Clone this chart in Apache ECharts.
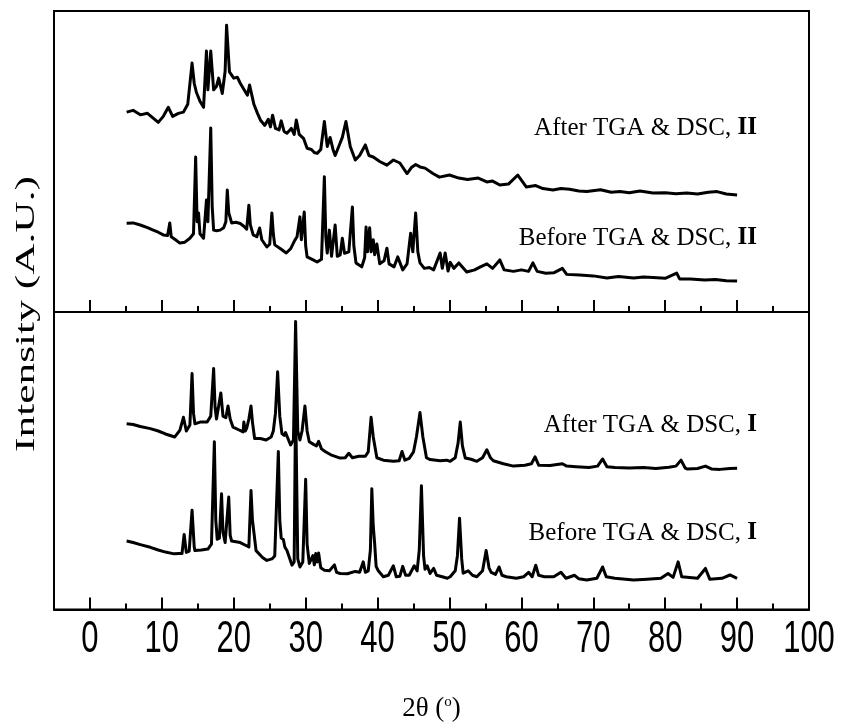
<!DOCTYPE html>
<html>
<head>
<meta charset="utf-8">
<script src="https://cdn.jsdelivr.net/npm/echarts@6/dist/echarts.min.js"></script>
<style>
  html, body { margin: 0; padding: 0; background: #fff; }
  #main { width: 841px; height: 723px; }
</style>
</head>
<body>
<div id="main"></div>
<script>
// tick positions of the 2θ axis
const majorTicks = [0, 10, 20, 30, 40, 50, 60, 70, 80, 90, 100];
const minorTicks = [5, 15, 25, 35, 45, 55, 65, 75, 85, 95];

// top panel: sample II (intensity in arbitrary units, 0-100 per panel)
const afterII = [[5.1,66.4],[6,67],[7,65.5],[8,66],[9,64],[9.5,63],[10.2,65],[10.9,68],[11.5,65],[12.3,66],[13,66.4],[13.6,69],[14.2,82.7],[14.5,76],[14.8,73],[15.3,70],[15.8,68],[16.2,86.7],[16.4,73.8],[16.8,86.7],[17.2,73.8],[17.6,75],[17.9,77.7],[18.4,72.6],[18.8,80],[19.0,95.3],[19.4,79.8],[20.0,77.7],[20.5,78],[20.9,76],[21.4,74],[21.9,72],[22.2,75.4],[22.8,69],[23.3,66],[23.7,63.8],[24.3,62],[24.8,64],[25.1,61.5],[25.4,65.4],[25.8,61],[26.3,60.5],[26.6,63.5],[27.0,60],[27.4,59.4],[28.0,61],[28.4,59],[28.7,63.8],[29.1,59],[29.7,57.7],[30.2,54.4],[30.8,54],[31.2,53],[31.6,52.7],[32.1,54],[32.6,63.3],[33.0,55],[33.4,58],[33.8,54],[34.1,52],[34.6,55],[35.1,58],[35.6,63.3],[36.2,55],[36.9,50.5],[37.5,52],[38.3,55.5],[38.8,52],[39.4,51.5],[40.3,50],[41.3,48.8],[42.2,50.5],[43.1,49.5],[44.1,46],[44.7,48],[45.3,49],[45.9,48.2],[46.6,47.8],[47.7,46],[48.6,44.8],[50,45.5],[51.3,44.5],[52.5,44],[54,44.5],[55.2,43.2],[56,43.5],[57,42.2],[58.2,42.5],[59.5,45.5],[60.7,41.5],[62,42],[63,41],[64.4,40.5],[65.5,41],[66.7,40.8],[68,40.2],[69.1,40],[71,40.6],[72.5,39.8],[73.7,40],[75,39.6],[76.5,40.2],[78.3,39.5],[80,39.6],[81.5,39.3],[83,39.5],[84.5,39.2],[86,39.8],[87.2,40],[88.5,39.2],[90,38.9]];

const beforeII = [[5.1,29.5],[6,29.6],[7,28.9],[8,28],[8.8,27.2],[9.5,26.5],[10.2,25.6],[10.8,25.4],[11.1,29.6],[11.3,25],[11.9,24],[12.5,22.9],[13.2,23.2],[13.9,24.5],[14.4,26],[14.7,51.5],[14.9,30],[15.1,32.9],[15.3,26],[15.8,24.5],[16.2,37.2],[16.4,30],[16.8,61.1],[17.0,35],[17.2,27.2],[17.6,27],[18.1,27.2],[18.6,28],[18.9,30],[19.1,40.5],[19.3,33],[19.7,29.6],[20.3,29.8],[20.9,29.4],[21.4,28.5],[21.8,27.5],[22.1,35.5],[22.3,29],[22.7,25.6],[23.2,25],[23.6,27.9],[23.9,24],[24.6,21.6],[25.0,22.5],[25.3,32.9],[25.5,26],[25.7,22.3],[26.5,21],[27.3,19.6],[27.9,21],[28.5,23.9],[28.8,25],[29.2,31.6],[29.4,24],[29.8,33.2],[30.0,22],[30.2,18.3],[30.9,17.5],[31.6,16.6],[32.2,17.5],[32.6,44.9],[32.8,25],[33.0,19.6],[33.3,27.2],[33.6,18.5],[34.1,28.9],[34.4,18.5],[34.8,19],[35.1,24.5],[35.4,19.5],[36.0,20],[36.5,34.9],[36.7,22],[37.0,16.3],[37.8,15],[38.2,18],[38.4,28.2],[38.6,20],[38.9,28],[39.1,20],[39.4,24],[39.6,19],[39.9,22.6],[40.3,16],[40.9,17],[41.3,21.2],[41.6,16],[42.3,15],[42.8,18.3],[43.5,14],[44.1,16],[44.6,26.2],[44.9,20],[45.3,32.9],[45.6,20],[45.9,16.3],[46.5,14.5],[47.2,14.8],[47.8,14],[48.7,19.6],[49.0,14.5],[49.4,19.6],[49.8,13.6],[50.1,16.5],[50.6,14.5],[51.3,16.3],[52.4,13.3],[53.5,14],[54.3,15],[55.2,16],[56,14.5],[57,17.3],[57.6,14],[58.9,13.5],[60,14],[61,13.5],[61.6,16.3],[62.2,13.5],[63.4,12.9],[64.5,13],[65.7,14.5],[66.3,12.5],[68.1,12.3],[70,12],[71.9,11.3],[73.5,11.8],[75.6,11.3],[77,11.6],[78.3,11.5],[80,11.2],[81.6,12.9],[82,11],[83.5,11],[85.5,10.6],[87,10.8],[88.5,10.4],[90,10.3]];

// bottom panel: sample I
const afterI = [[5.1,62.4],[6,62.2],[7,61.5],[8.4,60.8],[9.5,60],[10.5,59],[11.8,58],[12.5,60.2],[13.0,64.6],[13.4,60],[13.9,62],[14.2,79.3],[14.4,66],[14.6,62.4],[15.3,63],[16.3,63],[16.8,65],[17.2,81],[17.4,68],[17.6,64],[18.2,72.8],[18.5,65],[18.9,64.5],[19.2,68.4],[19.5,64],[19.9,61.3],[20.6,60.5],[21.3,59.7],[21.4,63],[21.6,60],[21.8,61],[22.1,64],[22.4,68.4],[22.6,63],[22.9,57.5],[23.7,57.5],[24.5,57],[25.2,58],[25.5,60],[25.8,66],[26.1,79.9],[26.4,65],[26.7,59.1],[27.0,58.5],[27.2,59.5],[27.9,55.3],[28.3,57],[28.6,96.8],[28.9,60],[29.2,57],[29.5,60],[29.9,68.4],[30.2,60],[30.5,56.4],[31.1,55.5],[31.5,55],[31.8,56.5],[32.2,54],[32.7,53.1],[33.5,52],[34.8,50.9],[35.5,51],[36.0,52.5],[36.5,51],[37.4,51.5],[38.3,51.5],[38.7,53],[39.1,64.6],[39.4,58],[39.9,51],[40.8,50.2],[42.2,49.8],[43.0,50],[43.4,53.1],[43.8,50.2],[44.4,50.8],[45.0,53],[45.4,58],[45.9,66.2],[46.3,58],[46.8,51],[47.3,50.4],[48.7,50],[49.6,50.2],[50.1,49.8],[50.8,51],[51.2,56],[51.5,63],[51.8,55],[52.2,50.9],[53,50.5],[53.8,49.8],[54.6,51],[55.2,53.7],[55.7,51],[56.1,50],[57.5,49],[58.9,48.2],[60.5,48.5],[61.4,49],[61.9,51.3],[62.4,48.5],[64,48.4],[65.7,49],[66.3,48.2],[67.6,48],[69.4,47.7],[70.6,48.2],[71.3,50.6],[71.9,48],[73,47.7],[75,47.6],[77,47.7],[78.7,47.4],[80.5,47.8],[81.5,48.2],[82.2,50.2],[82.8,47.5],[83.1,47.2],[84.5,47.4],[85.6,48.2],[86.5,47.2],[87.6,47.1],[89,47.4],[90,47.5]];

const beforeI = [[5.1,23],[6,22.5],[7,21.8],[8.4,20.9],[9.5,20],[10.5,19.3],[11.7,18.7],[12.4,18.8],[12.8,18.8],[13.1,25.2],[13.4,19.2],[13.8,19.6],[14.2,33.4],[14.5,21],[14.6,19.8],[15.5,20],[16.4,20.3],[16.9,22],[17.3,56.4],[17.5,30],[17.7,23.6],[18.0,24],[18.3,38.9],[18.5,26],[18.8,22.5],[19.3,37.8],[19.5,25],[19.7,23],[20.9,22.5],[21.7,21.5],[22.1,21],[22.4,40],[22.6,30],[22.7,28],[23.1,19.8],[24.0,17.5],[24.6,16.5],[25.3,17],[25.7,18],[26.2,53.1],[26.4,30],[26.6,24],[26.9,23.5],[27.1,21],[27.4,19.8],[28.1,14.9],[28.4,16],[28.6,70],[28.9,17],[29.2,14.3],[29.6,16],[30.0,43.8],[30.2,22],[30.5,15.5],[31.0,18.1],[31.2,15],[31.4,18.8],[31.6,16],[31.8,19],[32.1,14],[32.6,13.2],[33.3,13],[34.0,15],[34.3,12.5],[34.8,12.1],[35.8,12],[36.9,12.8],[37.5,12.5],[38.0,16],[38.3,12.5],[38.7,13],[39.0,20],[39.2,40.6],[39.4,28],[39.6,22],[39.8,14.5],[40.1,13],[40.8,11],[41.5,11.5],[42.2,14.7],[42.6,11],[43.1,11.2],[43.5,14.5],[43.9,11.5],[44.4,11.5],[45.1,14.7],[45.5,13],[45.8,20],[46.1,41.6],[46.4,18],[46.6,13.5],[46.9,14.7],[47.3,12.1],[47.8,13.8],[48.2,11.5],[49.0,11],[49.7,10.5],[50.1,11],[50.8,13],[51.1,18],[51.4,30.7],[51.7,17],[51.9,12.2],[52.6,13],[53.2,11.5],[53.8,11],[54.6,13],[55.1,19.8],[55.5,14],[55.8,12.5],[56.4,11.8],[56.9,14.3],[57.3,11.5],[57.9,11],[59.3,10.5],[60.3,11],[61.0,12.5],[61.5,11],[62.0,14.9],[62.4,11.5],[63.2,11],[64.5,11],[65.5,12.5],[66.2,10.5],[67.4,11.5],[68.0,10.3],[69.1,9.9],[70.5,10.5],[71.3,14.3],[71.8,11],[73,10.5],[75.6,9.9],[77.5,10.2],[79.4,10.5],[80.4,12.1],[81.1,10.8],[81.8,16],[82.3,11],[82.5,10.5],[84.5,10.5],[85.6,13.8],[86.2,10.2],[87.9,10.5],[89,11.6],[90,10.5]];

const serif = '"Liberation Serif", "Times New Roman", serif';
const sans = '"Liberation Sans", Arial, sans-serif';

// two x axes per panel: long ticks at the tens, short ones at the fives
function xAxes(grid, withName) {
  return [
    {
      type: 'value', gridIndex: grid, min: -5, max: 100, position: 'bottom',
      splitLine: { show: false },
      axisLine: { lineStyle: { color: '#000', width: 2 } },
      axisTick: { inside: true, length: 12, lineStyle: { color: '#000', width: 2 }, customValues: majorTicks },
      axisLabel: { show: false },
      name: withName ? '{t|2θ (}{s|o}{t|)}' : '',
      nameLocation: 'middle', nameGap: 85,
      nameTextStyle: {
        rich: {
          t: { fontFamily: serif, fontSize: 27, color: '#000' },
          s: { fontFamily: serif, fontSize: 15, color: '#000', verticalAlign: 'top', padding: [0, 0, 13, 0] }
        }
      }
    },
    {
      type: 'value', gridIndex: grid, min: -5, max: 100, position: 'bottom',
      splitLine: { show: false },
      axisLine: { show: false },
      axisTick: { inside: true, length: 6, lineStyle: { color: '#000', width: 2 }, customValues: minorTicks },
      axisLabel: { show: false }
    }
  ];
}

function trace(data, axisIdx, gridIdx) {
  return {
    type: 'line', data: data, xAxisIndex: axisIdx, yAxisIndex: gridIdx,
    showSymbol: false, symbol: 'none', silent: true,
    lineStyle: { color: '#000', width: 3, join: 'round' }
  };
}

function tag(text, y, bold) {
  return {
    type: 'text', x: 757, y: y,
    style: {
      text: '{n|' + text + '}{b|' + bold + '}',
      align: 'right', verticalAlign: 'middle',
      rich: {
        n: { fontFamily: serif, fontSize: 25, color: '#000' },
        b: { fontFamily: serif, fontSize: 25, fontWeight: 'bold', color: '#000' }
      }
    }
  };
}

const myChart = echarts.init(document.getElementById('main'), null, { renderer: 'canvas' });

const graphics = [
  tag('After TGA & DSC, ', 128, 'II'),
  tag('Before TGA & DSC, ', 238, 'II'),
  tag('After TGA & DSC, ', 425, 'I'),
  tag('Before TGA & DSC, ', 533, 'I'),
  {
    // the y title is drawn tall and narrow in the original
    type: 'text', x: 27, y: 314, rotation: Math.PI / 2, scaleX: 1.55,
    style: {
      text: 'Intensity (A.U.)', align: 'center', verticalAlign: 'middle',
      fontFamily: serif, fontSize: 28, fill: '#000'
    }
  }
];

const option = {
  animation: false,
  backgroundColor: '#fff',
  grid: [
    { left: 54, right: 32, top: 11, height: 301, show: true, borderColor: '#000', borderWidth: 2, backgroundColor: 'transparent' },
    { left: 54, right: 32, top: 312, height: 305, show: true, borderColor: '#000', borderWidth: 2, backgroundColor: 'transparent' }
  ],
  xAxis: xAxes(0, false).concat(xAxes(1, true)),
  yAxis: [
    { type: 'value', gridIndex: 0, min: 0, max: 100, show: false },
    { type: 'value', gridIndex: 1, min: 0, max: 100, show: false }
  ],
  series: [
    trace(afterII, 0, 0),
    trace(beforeII, 0, 0),
    trace(afterI, 2, 1),
    trace(beforeI, 2, 1)
  ],
  graphic: graphics
};

myChart.setOption(option);

// tick labels: condensed, tall digits placed with the bottom axis scale
const tickLabels = majorTicks.map(v => ({
  type: 'text',
  x: myChart.convertToPixel({ xAxisIndex: 2 }, v),
  y: 640, scaleY: 1.42,
  style: { text: String(v), align: 'center', verticalAlign: 'middle', fontFamily: sans, fontSize: 31, fill: '#000' }
}));
myChart.setOption({ graphic: graphics.concat(tickLabels) });
</script>
</body>
</html>
